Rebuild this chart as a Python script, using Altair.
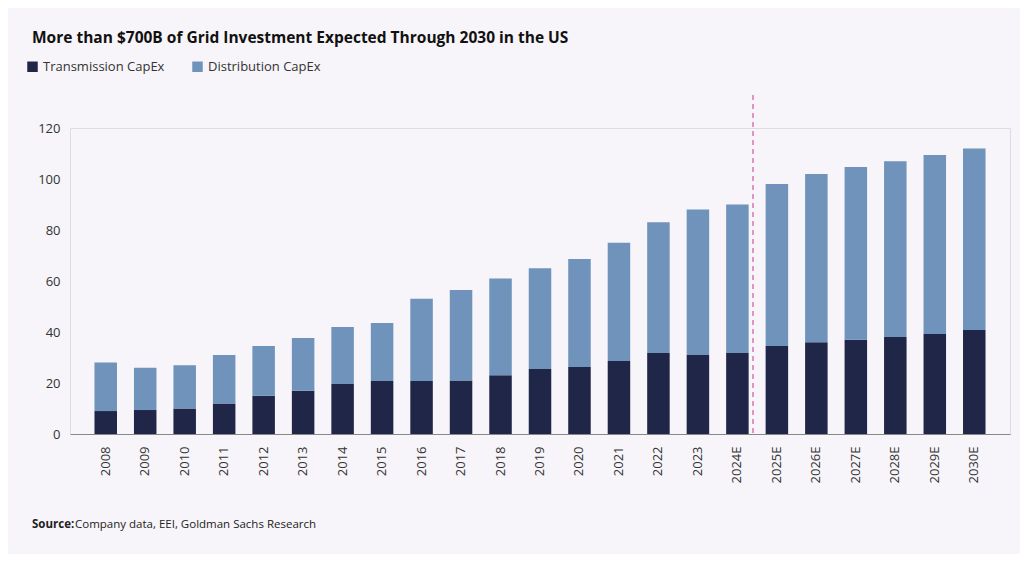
import altair as alt
import pandas as pd

years = ["2008", "2009", "2010", "2011", "2012", "2013", "2014", "2015", "2016", "2017", "2018",
         "2019", "2020", "2021", "2022", "2023", "2024E", "2025E", "2026E", "2027E", "2028E",
         "2029E", "2030E"]
transmission = [9, 9.4, 10, 12, 15, 17, 19.6, 20.8, 20.8, 21, 23, 25.5, 26.3, 28.6, 31.8, 31,
                31.8, 34.5, 36, 37, 38, 39.2, 40.8]
total = [28, 26, 27, 31, 34.5, 37.6, 42, 43.5, 53, 56.5, 61, 65, 68.6, 75, 83, 88, 90, 98,
         102, 104.7, 107, 109.4, 112]

series = ["Transmission CapEx", "Distribution CapEx"]
rows = []
for y, t, tot in zip(years, transmission, total):
    rows.append({"year": y, "series": series[0], "value": t, "order": 0})
    rows.append({"year": y, "series": series[1], "value": round(tot - t, 1), "order": 1})
df = pd.DataFrame(rows)

font = "Open Sans"
W, H = 940, 306

bars = alt.Chart(df).mark_bar().encode(
    x=alt.X("year:N", sort=years, title=None,
            scale=alt.Scale(paddingInner=0.43, paddingOuter=0.62),
            axis=alt.Axis(labelAngle=-90, labelFontSize=13, labelColor="#333", ticks=False,
                          domainColor="#888", labelPadding=12, labelBaseline="middle")),
    y=alt.Y("value:Q", stack="zero", title=None,
            scale=alt.Scale(domain=[0, 120], nice=False),
            axis=alt.Axis(values=list(range(0, 121, 20)), grid=False, domain=False, ticks=False,
                          labelFontSize=13, labelColor="#333", labelPadding=10)),
    color=alt.Color("series:N", sort=series,
                    scale=alt.Scale(domain=series, range=["#1f2647", "#6f93bb"]),
                    legend=alt.Legend(title=None, orient="none", direction="horizontal",
                                      legendX=-44, legendY=-68, symbolType="square",
                                      symbolSize=110, labelFontSize=13, labelColor="#333",
                                      columnPadding=26, labelFont=font)),
    order=alt.Order("order:Q"),
)

divider = alt.Chart(pd.DataFrame({"d": [0]})).mark_rule(
    strokeDash=[5, 4], color="#d0559e", strokeWidth=1.2
).encode(x=alt.value(683), y=alt.value(-33), y2=alt.value(H))

title = alt.Chart(pd.DataFrame({"t": ["More than $700B of Grid Investment Expected Through 2030 in the US"]})).mark_text(
    align="left", fontWeight="bold", fontSize=15.5, font=font, color="#111"
).encode(x=alt.value(-38), y=alt.value(-90), text="t:N")

src_b = alt.Chart(pd.DataFrame({"t": ["Source:"]})).mark_text(
    align="left", fontWeight="bold", fontSize=11.5, font=font, color="#222"
).encode(x=alt.value(-38), y=alt.value(397), text="t:N")
src = alt.Chart(pd.DataFrame({"t": ["Company data, EEI, Goldman Sachs Research"]})).mark_text(
    align="left", fontSize=11.5, font=font, color="#222"
).encode(x=alt.value(5), y=alt.value(397), text="t:N")

chart = alt.layer(bars, divider, title, src_b, src).properties(
    width=W, height=H,
    autosize=alt.AutoSizeParams(type="none"),
    padding={"left": 62, "top": 120, "right": 10, "bottom": 120},
    background="#f7f5f9",
).configure_view(strokeWidth=0).configure(font=font)

chart.save("out.html", embed_options={"renderer": "svg", "actions": False})
